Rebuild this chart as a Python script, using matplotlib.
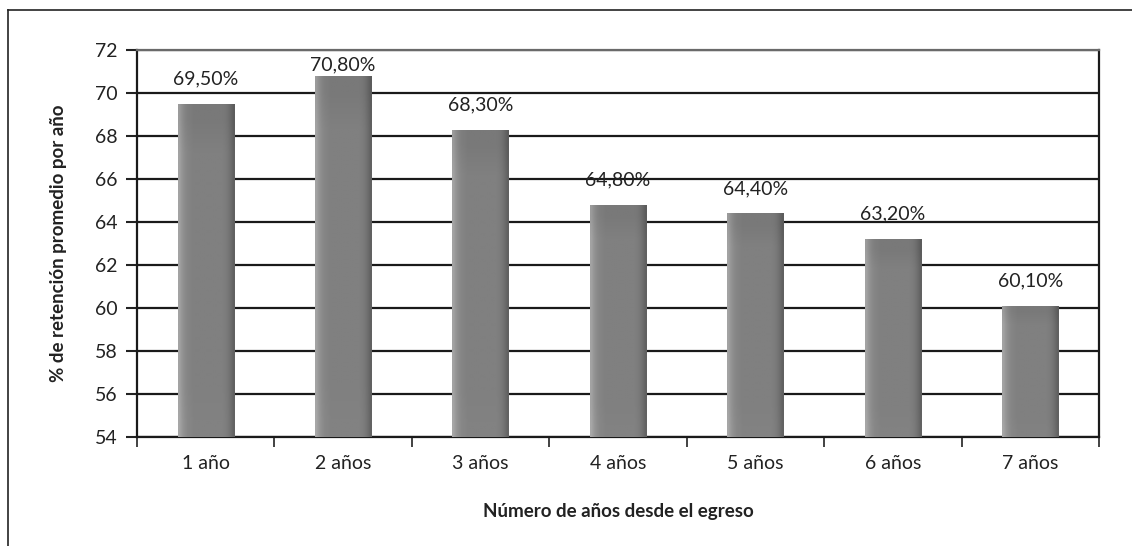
import matplotlib.pyplot as plt
import numpy as np
from matplotlib.lines import Line2D

plt.rcParams['font.family'] = ['Lato', 'DejaVu Sans']

categorias = ['1 año', '2 años', '3 años', '4 años', '5 años', '6 años', '7 años']
retencion = [69.5, 70.8, 68.3, 64.8, 64.4, 63.2, 60.1]
etiquetas = ['69,50%', '70,80%', '68,30%', '64,80%', '64,40%', '63,20%', '60,10%']

fig = plt.figure(figsize=(11.32, 5.46), dpi=100)
ax = fig.add_axes([137 / 1132, 1 - 437 / 546, (1099 - 137) / 1132, (437 - 50) / 546])

x = np.arange(len(categorias))
base = 54
bars = ax.bar(x, np.array(retencion) - base, bottom=base, width=0.41,
              color='#808080', edgecolor='none', zorder=3)

# shading: light left edge, dark right edge, flat middle
cols = np.array([0.64, 0.58, 0.54, 0.52, 0.51, 0.50, 0.50, 0.50, 0.50, 0.50,
                 0.50, 0.50, 0.50, 0.50, 0.50, 0.50, 0.49, 0.47, 0.43, 0.38])
rows = np.array([1.02, 1.0, 1.0, 1.0, 1.0, 1.0, 1.0, 1.0, 1.0, 0.95])[:, None]
grad = np.clip(cols[None, :] * rows[::-1], 0, 1)
for b in bars:
    x0, y0 = b.get_x(), b.get_y()
    w, h = b.get_width(), b.get_height()
    im = ax.imshow(grad, cmap='gray', vmin=0, vmax=1, aspect='auto',
                   extent=(x0, x0 + w, y0, y0 + h), zorder=4,
                   interpolation='bilinear', origin='upper')
    im.set_clip_path(b)

# labels ~25 px above bar top, kept inside the plot area
for xi, v, t in zip(x, retencion, etiquetas):
    ly = min(v + 25 / 21.5, 71.3)
    ax.text(xi, ly, t, ha='center', va='center', fontsize=14, color='#222222',
            zorder=5)

ax.set_xlim(-0.5, len(categorias) - 0.5)
ax.set_ylim(54, 72)
ax.set_yticks(np.arange(54, 73, 2))
ax.yaxis.grid(True, color='#1a1a1a', linewidth=1.6, zorder=1)
ax.set_axisbelow(True)

ax.set_xticks(x)
ax.set_xticklabels(categorias)
ax.set_xticks(np.arange(-0.5, len(categorias) + 0.5, 1), minor=True)
ax.tick_params(axis='x', which='major', length=0, labelsize=14, pad=13,
               colors='#222222')
ax.tick_params(axis='x', which='minor', length=7, width=1.2, color='#222222')
ax.tick_params(axis='y', length=8, width=1.5, labelsize=14, pad=6,
               colors='#222222')

for s in ['left', 'bottom', 'right']:
    ax.spines[s].set_color('#1a1a1a')
    ax.spines[s].set_linewidth(1.6)
ax.spines['top'].set_color('#6a6a6a')
ax.spines['top'].set_linewidth(1.6)

ax.set_ylabel('% de retención promedio por año', fontsize=13.5, fontweight='bold',
              color='#222222', labelpad=20)
ax.set_xlabel('Número de años desde el egreso', fontsize=13.5, fontweight='bold',
              color='#222222', labelpad=22)

# outer frame (top and left only)
fig.add_artist(Line2D([8 / 1132, 1], [1 - 10 / 546, 1 - 10 / 546],
                      transform=fig.transFigure, color='#222222', linewidth=1.2))
fig.add_artist(Line2D([8 / 1132, 8 / 1132], [0, 1 - 10 / 546],
                      transform=fig.transFigure, color='#222222', linewidth=1.2))

fig.savefig('out.png', dpi=100)
